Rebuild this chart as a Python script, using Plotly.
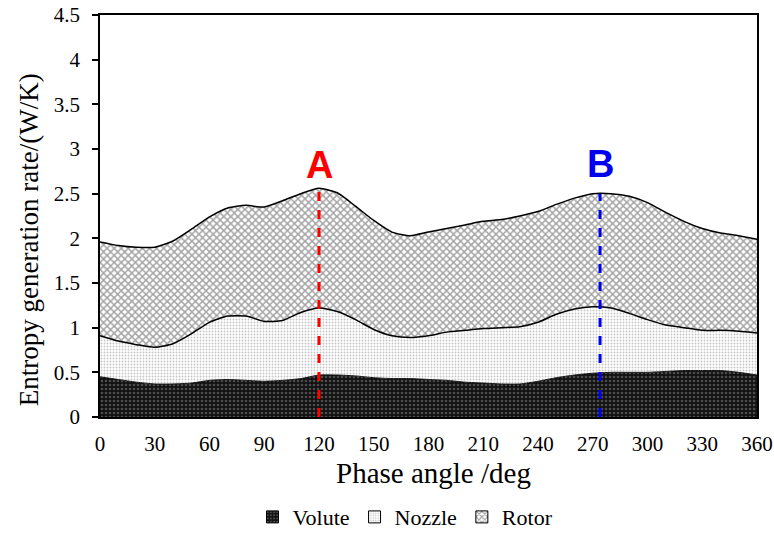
import plotly.graph_objects as go

angle = [0, 10, 20, 30, 40, 50, 60, 70, 80, 90, 100, 110, 120, 130, 140, 150, 160, 170, 180,
         190, 200, 210, 220, 230, 240, 250, 260, 270, 280, 290, 300, 310, 320, 330, 340, 350, 360]
volute = [0.45, 0.42, 0.39, 0.37, 0.37, 0.38, 0.41, 0.42, 0.41, 0.40, 0.41, 0.43, 0.47, 0.47, 0.46,
          0.44, 0.43, 0.43, 0.42, 0.41, 0.39, 0.38, 0.37, 0.37, 0.40, 0.44, 0.47, 0.49, 0.50, 0.50,
          0.50, 0.51, 0.52, 0.52, 0.52, 0.50, 0.47]
nozzle = [0.46, 0.43, 0.42, 0.41, 0.45, 0.55, 0.65, 0.71, 0.72, 0.67, 0.67, 0.74, 0.75, 0.71, 0.63,
          0.54, 0.48, 0.46, 0.49, 0.54, 0.58, 0.61, 0.63, 0.64, 0.66, 0.71, 0.74, 0.745, 0.72, 0.66,
          0.59, 0.52, 0.48, 0.45, 0.45, 0.46, 0.47]
rotor = [1.05, 1.07, 1.09, 1.12, 1.15, 1.17, 1.18, 1.21, 1.24, 1.28, 1.34, 1.33, 1.34, 1.33, 1.27,
         1.22, 1.16, 1.14, 1.16, 1.16, 1.18, 1.20, 1.21, 1.24, 1.24, 1.23, 1.24, 1.265, 1.28, 1.31,
         1.31, 1.26, 1.19, 1.14, 1.09, 1.07, 1.05]

marker_a = {"label": "A", "angle": 120, "value": 2.56}
marker_b = {"label": "B", "angle": 274, "value": 2.50}
x_ticks = list(range(0, 361, 30))

serif = "Liberation Serif"
patterns = {
    "Volute": dict(shape=".", bgcolor="#111111", fgcolor="#8a8a8a", size=4, solidity=0.35),
    "Nozzle": dict(shape=".", bgcolor="white", fgcolor="#8c8c8c", size=3, solidity=0.3),
    "Rotor": dict(shape="x", bgcolor="white", fgcolor="#4a4a4a", size=5, solidity=0.5),
}
line_cols = {"Volute": ("#111111", 1), "Nozzle": ("black", 1.5), "Rotor": ("black", 1.5)}

fig = go.Figure()
for name, vals in (("Volute", volute), ("Nozzle", nozzle), ("Rotor", rotor)):
    c, w = line_cols[name]
    fig.add_trace(go.Scatter(
        x=angle, y=vals, name=name, stackgroup="s", mode="lines",
        line=dict(color=c, width=w, shape="spline", smoothing=0.6),
        fillcolor=patterns[name]["bgcolor"], fillpattern=patterns[name],
        showlegend=False, hoverinfo="skip"))

# legend swatches
for name in ("Volute", "Nozzle", "Rotor"):
    p = dict(patterns[name])
    bg = p.pop("bgcolor")
    fig.add_trace(go.Bar(
        x=[None], y=[None], name=name,
        marker=dict(color=bg, line=dict(color="black", width=1),
                    pattern=dict(p, bgcolor=bg))))

for m, col, shift in ((marker_a, "#ff0000", 0), (marker_b, "#0000ee", 7)):
    fig.add_trace(go.Scatter(
        x=[m["angle"], m["angle"]], y=[0, m["value"]], mode="lines",
        line=dict(color=col, width=3, dash="dash"), showlegend=False, hoverinfo="skip"))
    fig.add_annotation(x=m["angle"], y=m["value"], text="<b>%s</b>" % m["label"],
                       showarrow=False, yanchor="bottom", yshift=shift,
                       font=dict(family="Arial, Liberation Sans", size=38, color=col))

# axis titles
fig.add_annotation(x=0.508, xref="paper", y=-0.139, yref="paper", yanchor="middle",
                   text="Phase angle /deg", showarrow=False,
                   font=dict(family=serif, size=29, color="black"))
fig.add_annotation(x=-0.108, xref="paper", y=0.44, yref="paper", xanchor="center",
                   yanchor="middle",
                   text="Entropy generation rate/(W/K)", showarrow=False, textangle=-90,
                   font=dict(family=serif, size=27, color="black"))

fig.update_layout(
    width=774, height=533,
    margin=dict(l=100, r=17, t=15, b=116, autoexpand=False),
    paper_bgcolor="white", plot_bgcolor="white",
    font=dict(family=serif, color="black", size=21),
    showlegend=True, barmode="overlay",
    legend=dict(orientation="h", x=0.465, xanchor="center", y=-0.249, yanchor="middle",
                font=dict(family=serif, size=22), itemwidth=30, traceorder="normal",
                tracegroupgap=0),
    xaxis=dict(range=[0, 360], tickvals=x_ticks, showgrid=False, zeroline=False,
               showline=True, linecolor="black", linewidth=1.5, mirror=True,
               ticks="", ticklabelstandoff=7, tickfont=dict(size=21)),
    yaxis=dict(range=[0, 4.5], dtick=0.5, showgrid=False, zeroline=False,
               showline=True, linecolor="black", linewidth=1.5, mirror=True,
               ticks="outside", ticklen=6, tickwidth=1.5, tickcolor="black",
               tickfont=dict(size=21), ticklabelstandoff=8),
)
fig.write_html("out.html")
